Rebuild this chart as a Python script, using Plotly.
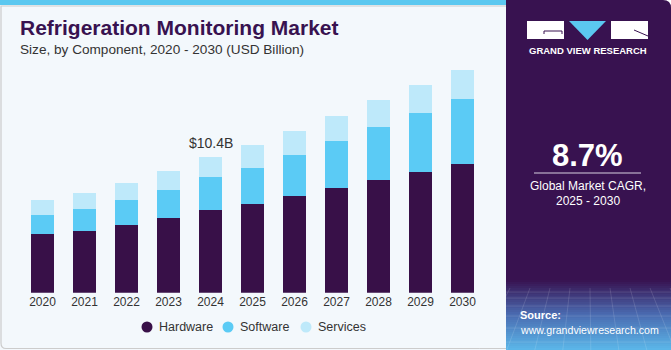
import plotly.graph_objects as go

years = ["2020", "2021", "2022", "2023", "2024", "2025", "2026", "2027", "2028", "2029", "2030"]
hardware = [4.48, 4.73, 5.19, 5.70, 6.34, 6.77, 7.39, 8.02, 8.64, 9.25, 9.84]
software = [1.48, 1.69, 1.92, 2.17, 2.51, 2.80, 3.19, 3.62, 4.08, 4.54, 5.03]
services = [1.15, 1.20, 1.33, 1.46, 1.56, 1.74, 1.84, 1.92, 2.05, 2.18, 2.25]
series_names = ["Hardware", "Software", "Services"]
series_colors = ["#381048", "#5BCBF5", "#BEE9FA"]
highlight_year = "2024"
highlight_label = "$10.4B"

W, H = 671, 350
FONT = "Liberation Sans, Arial, sans-serif"

def px(x):
    return x / W

def py(y):
    return 1 - y / H

fig = go.Figure()
for name, vals, col in zip(series_names, [hardware, software, services], series_colors):
    fig.add_trace(go.Bar(x=years, y=vals, name=name, marker=dict(color=col, line=dict(width=0)),
                         showlegend=False))

shapes = []
# left panel background
shapes.append(dict(type="rect", xref="paper", yref="paper", x0=0, x1=px(506), y0=0, y1=1,
                   fillcolor="#F3F8FC", line=dict(width=0), layer="below"))
# left panel border
shapes.append(dict(type="path", xref="paper", yref="paper",
                   path=f"M {px(506)} {py(348.5)} L {px(6)} {py(348.5)} Q {px(1)} {py(348.5)} {px(1)} {py(343)} L {px(1)} {py(6)} L {px(506)} {py(6)}",
                   line=dict(color="#CCCCCC", width=1.2), layer="below"))
# top strip
shapes.append(dict(type="rect", xref="paper", yref="paper", x0=0, x1=px(506), y0=py(5), y1=1,
                   fillcolor="#5BC8F0", line=dict(width=0), layer="below"))
# right panel
r = 8
shapes.append(dict(type="path", xref="paper", yref="paper",
                   path=f"M {px(506)} {py(350)} L {px(506)} {py(0)} L {px(W - r)} {py(0)} Q {px(W)} {py(0)} {px(W)} {py(r)} L {px(W)} {py(350)} Z",
                   fillcolor="#381250", line=dict(width=0), layer="below"))
# gradient at bottom of right panel
c0 = (0x38, 0x12, 0x50)
c1 = (0x4A, 0x6A, 0xB0)
c2 = (0x5C, 0xB8, 0xEA)
y_start, y_mid, y_end = 280, 314, 350
n = 35
for i in range(n):
    ya = y_start + (y_end - y_start) * i / n
    yb = y_start + (y_end - y_start) * (i + 1) / n
    t = (ya + yb) / 2
    if t < y_mid:
        f = (t - y_start) / (y_mid - y_start)
        a, b = c0, c1
    else:
        f = (t - y_mid) / (y_end - y_mid)
        a, b = c1, c2
    col = "rgb(%d,%d,%d)" % tuple(int(a[k] + (b[k] - a[k]) * f) for k in range(3))
    shapes.append(dict(type="rect", xref="paper", yref="paper", x0=px(506), x1=1,
                       y0=py(yb), y1=py(ya), fillcolor=col, line=dict(width=0), layer="below"))
# faint grid texture
for k in range(9):
    xx = 510 + k * 20
    shapes.append(dict(type="line", xref="paper", yref="paper", x0=px(xx + (xx - 588) * 0.4), y0=py(350),
                       x1=px(xx), y1=py(288), line=dict(color="rgba(255,255,255,0.13)", width=1), layer="below"))
for yy in [292, 298, 306, 316, 328, 342]:
    shapes.append(dict(type="line", xref="paper", yref="paper", x0=px(506), x1=1, y0=py(yy), y1=py(yy),
                       line=dict(color="rgba(255,255,255,0.12)", width=1), layer="below"))
# logo
shapes.append(dict(type="rect", xref="paper", yref="paper", x0=px(527), x1=px(564), y0=py(39), y1=py(21),
                   fillcolor="white", line=dict(width=0)))
shapes.append(dict(type="path", xref="paper", yref="paper",
                   path=f"M {px(544)} {py(31)} L {px(562)} {py(31)} L {px(562)} {py(34)} M {px(544)} {py(31)} L {px(544)} {py(34)}",
                   line=dict(color="#381250", width=1)))
shapes.append(dict(type="path", xref="paper", yref="paper",
                   path=f"M {px(569)} {py(21)} L {px(606)} {py(21)} L {px(587.5)} {py(40)} Z",
                   fillcolor="#5BC8F0", line=dict(width=0)))
shapes.append(dict(type="rect", xref="paper", yref="paper", x0=px(611), x1=px(648), y0=py(39), y1=py(21),
                   fillcolor="white", line=dict(width=0)))
shapes.append(dict(type="path", xref="paper", yref="paper",
                   path=f"M {px(634)} {py(30)} L {px(648)} {py(36)}",
                   line=dict(color="#381250", width=1)))
# divider under CAGR
shapes.append(dict(type="line", xref="paper", yref="paper", x0=px(534), x1=px(641), y0=py(173), y1=py(173),
                   line=dict(color="#D8D0E0", width=1)))

hi = years.index(highlight_year)
annotations = [
    dict(text="<b>Refrigeration Monitoring Market</b>", x=px(18), y=py(28), xref="paper", yref="paper",
         xanchor="left", yanchor="middle", showarrow=False,
         font=dict(family=FONT, size=21, color="#381250")),
    dict(text="Size, by Component, 2020 - 2030 (USD Billion)", x=px(18), y=py(49), xref="paper", yref="paper",
         xanchor="left", yanchor="middle", showarrow=False,
         font=dict(family=FONT, size=13.6, color="#333333")),
    dict(text=highlight_label, x=hi, y=hardware[hi] + software[hi] + services[hi], xref="x", yref="y",
         xanchor="center", yanchor="bottom", yshift=4, showarrow=False,
         font=dict(family=FONT, size=14, color="#333333")),
    dict(text="<b>GRAND VIEW RESEARCH</b>", x=px(587.5), y=py(51), xref="paper", yref="paper",
         xanchor="center", yanchor="middle", showarrow=False,
         font=dict(family=FONT, size=9.5, color="white")),
    dict(text="<b>8.7%</b>", x=px(587.5), y=py(155), xref="paper", yref="paper",
         xanchor="center", yanchor="middle", showarrow=False,
         font=dict(family=FONT, size=31, color="white")),
    dict(text="Global Market CAGR,", x=px(587.5), y=py(186), xref="paper", yref="paper",
         xanchor="center", yanchor="middle", showarrow=False,
         font=dict(family=FONT, size=12, color="white")),
    dict(text="2025 - 2030", x=px(587.5), y=py(201), xref="paper", yref="paper",
         xanchor="center", yanchor="middle", showarrow=False,
         font=dict(family=FONT, size=12, color="white")),
    dict(text="<b>Source:</b>", x=px(518), y=py(315), xref="paper", yref="paper",
         xanchor="left", yanchor="middle", showarrow=False,
         font=dict(family=FONT, size=11, color="white")),
    dict(text="www.grandviewresearch.com", x=px(518), y=py(330), xref="paper", yref="paper",
         xanchor="left", yanchor="middle", showarrow=False,
         font=dict(family=FONT, size=10.6, color="white")),
]

# legend (drawn as circle + label, to match the compact reference spacing)
legend_x = [147, 228, 306]
legend_y = 327
for name, col, lx in zip(series_names, series_colors, legend_x):
    shapes.append(dict(type="circle", xref="paper", yref="paper",
                       x0=px(lx - 5.5), x1=px(lx + 5.5), y0=py(legend_y + 5.5), y1=py(legend_y - 5.5),
                       fillcolor=col, line=dict(width=0)))
    annotations.append(dict(text=name, x=px(lx + 10), y=py(legend_y), xref="paper", yref="paper",
                            xanchor="left", yanchor="middle", showarrow=False,
                            font=dict(family=FONT, size=12.5, color="#333333")))

fig.update_layout(
    width=W, height=H,
    margin=dict(l=0, r=0, t=0, b=0),
    paper_bgcolor="white",
    plot_bgcolor="rgba(0,0,0,0)",
    barmode="stack",
    bargap=0.45,
    shapes=shapes,
    annotations=annotations,
    showlegend=False,
    xaxis=dict(domain=[px(21.5), px(483.5)], showgrid=False, zeroline=False, showline=False,
               ticks="", tickfont=dict(family=FONT, size=12, color="#333333"),
               type="category", range=[-0.5, 10.5]),
    yaxis=dict(domain=[py(292.7), py(60)], range=[0, 17.85], showgrid=False, zeroline=False,
               showticklabels=False, showline=False, ticks=""),
)

fig.write_html("out.html")
